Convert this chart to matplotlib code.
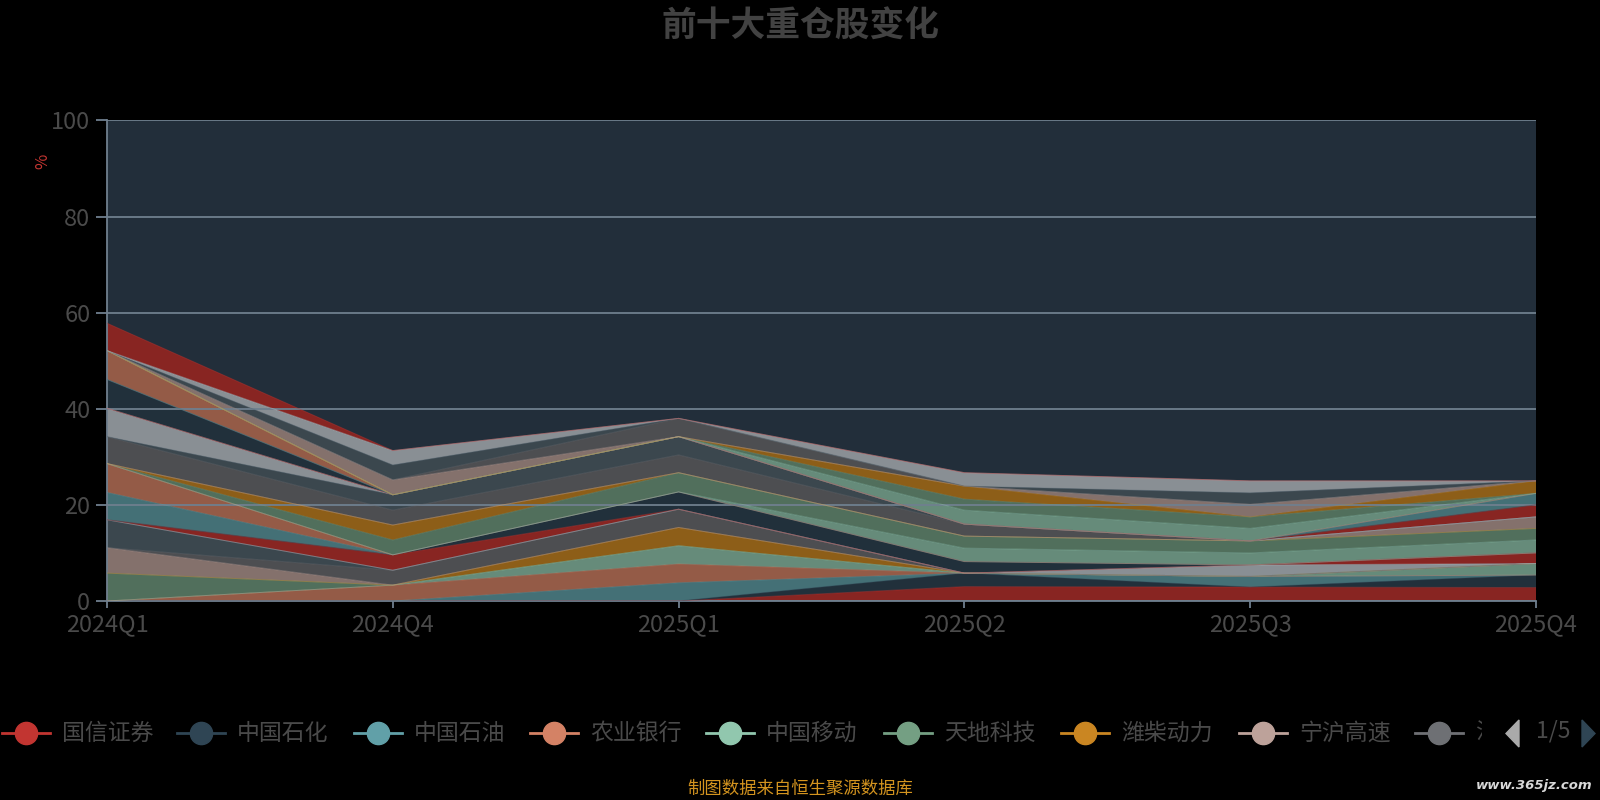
import numpy as np
import matplotlib
matplotlib.use("Agg")
import matplotlib.pyplot as plt
from matplotlib.lines import Line2D
from matplotlib.patches import Polygon
from matplotlib.transforms import Bbox
from matplotlib.colors import to_rgb

plt.rcParams['font.family'] = ['Noto Sans CJK SC', 'DejaVu Sans']

# ---------------- data ----------------
quarters = ['2024Q1', '2024Q4', '2025Q1', '2025Q2', '2025Q3', '2025Q4']
stock_names = ['国信证券', '中国石化', '中国石油', '农业银行', '中国移动', '天地科技', '潍柴动力', '宁沪高速',
               '江苏银行', '大秦铁路', '长江电力', '中国神华', '工商银行', '建设银行', '中国银行', '交通银行',
               '招商银行', '兴业银行', '中国建筑', '海螺水泥', '格力电器', '美的集团', '伊利股份', '双汇发展',
               '中国平安', '中国人寿', '中远海控', '宝钢股份', '陕西煤业', '兖矿能源', '中煤能源', '川投能源',
               '粤高速A', '福耀玻璃']
#          0    1    2    3    4    5    6    7    8    9    10   11   12   13   14   15   16
w_2024Q1 = [0,   0,   0,   0,   0,   5.8, 0,   5.3, 0,   5.8, 0,   0,   0,   5.7, 6.0, 0,   0,
            0,   0,   5.6, 0,   5.9, 0,   6.0, 0,   6.0, 0,   0,   0,   0,   0,   0,   0,   5.7]
w_2024Q4 = [0,   0,   0,   3.3, 0,   0,   0,   0,   3.1, 0,   0,   3.2, 0,   0,   0,   0,   3.1,
            3.1, 0,   3.1, 3.2, 0,   0,   0,   0,   0,   0,   0,   0,   3.1, 0,   3.1, 3.0, 0]
w_2025Q1 = [0,   0,   3.8, 3.9, 3.8, 0,   3.8, 0,   3.8, 0,   0,   0,   3.6, 0,   0,   0,   4.0,
            0,   0,   3.7, 3.8, 0,   0,   0,   0,   0,   0,   0,   0,   0,   3.8, 0,   0,   0]
w_2025Q2 = [3.0, 2.8, 0,   0,   0,   0,   0,   0,   0,   0,   0,   0,   2.4, 0,   0,   2.8, 2.5,
            0,   0,   2.5, 0,   0,   0,   0,   0,   0,   2.9, 2.3, 2.7, 0,   0,   0,   2.8, 0]
w_2025Q3 = [2.9, 0,   2.2, 0,   0,   0,   0,   0,   0,   0,   2.4, 0,   0,   0,   0,   2.5, 2.5,
            0,   0,   0,   0,   0,   0,   0,   0,   0,   2.6, 2.4, 0,   2.6, 0,   2.4, 2.5, 0]
w_2025Q4 = [2.8, 2.6, 0,   0,   2.4, 0,   0,   0,   0,   0,   0,   2.2, 0,   0,   0,   2.7, 2.4,
            0,   2.4, 0,   0,   0,   2.5, 0,   2.4, 0,   0,   0,   2.6, 0,   0,   0,   0,   0]
y_ticks = [0, 20, 40, 60, 80, 100]

# ---------------- styles ----------------
palette = ['#c23531', '#2f4554', '#61a0a8', '#d48265', '#91c7ae', '#749f83',
           '#ca8622', '#bda29a', '#6e7074', '#546570', '#c4ccd3']
area_alpha = 0.7
plot_bg = '#222e3a'
grid_col = '#6f7f8e'
text_col = '#4a4a4a'

W, H = 1600, 800
fig = plt.figure(figsize=(16, 8), dpi=100, facecolor='black')

L, R, T, B = 107, 1536, 120.4, 601
ax = fig.add_axes([L / W, 1 - B / H, (R - L) / W, (B - T) / H])
ax.set_facecolor(plot_bg)

values = np.array([w_2024Q1, w_2024Q4, w_2025Q1, w_2025Q2, w_2025Q3, w_2025Q4], dtype=float).T
x = np.arange(len(quarters))
n_series = values.shape[0]
colors = [palette[i % len(palette)] for i in range(n_series)]
area_cols = [tuple(area_alpha * c for c in to_rgb(col)) for col in colors]

ax.stackplot(x, values, colors=area_cols, linewidth=0, zorder=2)
tops = np.cumsum(values, axis=0)
for i in range(n_series):
    ax.plot(x, tops[i], color=colors[i], lw=0.7, alpha=0.4, zorder=3)

ax.set_xlim(0, len(quarters) - 1)
ax.set_ylim(0, 100)
ax.set_yticks(y_ticks)
ax.set_yticklabels([str(v) for v in y_ticks])
ax.set_xticks(x)
ax.set_xticklabels(quarters)
ax.grid(axis='y', color=grid_col, lw=1.3, zorder=1)
ax.set_axisbelow(False)
for s in ['top', 'right']:
    ax.spines[s].set_visible(False)
for s in ['left', 'bottom']:
    ax.spines[s].set_color(grid_col)
    ax.spines[s].set_linewidth(1.3)
ax.tick_params(axis='y', colors=grid_col, length=8, width=1.3, labelsize=17, labelcolor=text_col, pad=4)
ax.tick_params(axis='x', colors=grid_col, length=5, width=1.3, labelsize=17, labelcolor=text_col, pad=4)
for lab in ax.get_yticklabels() + ax.get_xticklabels():
    lab.set_fontweight('light')

# unit label
fig.text(43 / W, 1 - 161 / H, '%', color='#c23531', fontsize=12, rotation=90, ha='center', va='center')

# title
fig.text(0.5, 1 - 26 / H, '前十大重仓股变化', color='#424242', fontsize=25, fontweight='bold',
         ha='center', va='center')

# footer
fig.text(0.5, 1 - 789 / H, '制图数据来自恒生聚源数据库', color='#d4941f', fontsize=12.5,
         ha='center', va='center')
fig.text(1592 / W, 1 - 785 / H, 'www.365jz.com', color='#d8d8d8', fontsize=9.5,
         fontstyle='italic', fontweight='bold', ha='right', va='center', family='DejaVu Sans')

# ---------------- legend (page 1 of 5) ----------------
ov = fig.add_axes([0, 0, 1, 1], facecolor='none')
ov.set_xlim(0, W)
ov.set_ylim(H, 0)
ov.axis('off')
leg_y = 733
leg_circle_x = [25.5, 201, 377.5, 554, 729.5, 908, 1085, 1263, 1439]
leg_text_dx = 36
n_leg = len(leg_circle_x)
for i, cx in enumerate(leg_circle_x):
    col = colors[i]
    ov.add_line(Line2D([cx - 24, cx + 24], [leg_y, leg_y], color=col, lw=2))
    ov.plot([cx], [leg_y], 'o', ms=16, color=col, mec=col)
    label = stock_names[i] if i < n_leg - 1 else stock_names[i][:1]
    t = ov.text(cx + leg_text_dx, leg_y, label, color=text_col, fontsize=16.5,
                ha='left', va='center', fontweight='light')
    if i == n_leg - 1:
        t.set_clip_box(Bbox.from_extents(0, 0, 1482, H))
        t.set_clip_on(True)
# pager
ov.add_patch(Polygon([[1519, 720], [1519, 747], [1506, 733.5]], closed=True, color='#aaaaaa'))
ov.text(1553, 731, '1/5', color=text_col, fontsize=16.5, ha='center', va='center', fontweight='light')
ov.add_patch(Polygon([[1582, 720], [1582, 747], [1595, 733.5]], closed=True, color='#2f4554'))

fig.savefig('out.png', dpi=100, facecolor='black')
